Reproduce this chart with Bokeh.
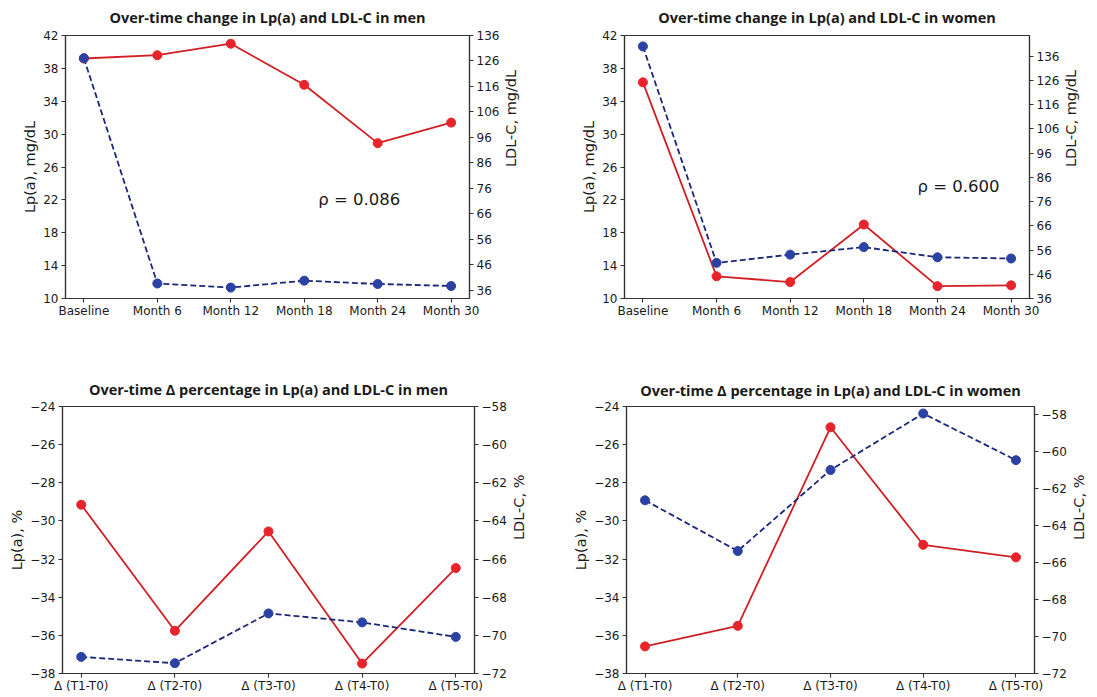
import math
from bokeh.plotting import figure
from bokeh.models import Range1d, LinearAxis, FixedTicker, Label, CustomJSTickFormatter
from bokeh.layouts import column, row
from bokeh.embed import file_html
from bokeh.resources import INLINE

# ---------------- data ----------------
time_labels = ["Baseline", "Month 6", "Month 12", "Month 18", "Month 24", "Month 30"]
delta_labels = ["Δ (T1-T0)", "Δ (T2-T0)", "Δ (T3-T0)", "Δ (T4-T0)", "Δ (T5-T0)"]

men_lpa = [39.2, 39.6, 41.0, 36.0, 28.9, 31.4]
men_ldl = [127.1, 38.6, 37.0, 39.7, 38.4, 37.6]
women_lpa = [36.3, 12.7, 12.0, 19.0, 11.5, 11.6]
women_ldl = [140.0, 50.7, 54.1, 57.2, 53.0, 52.5]

men_lpa_pct = [-29.15, -35.76, -30.55, -37.48, -32.47]
men_ldl_pct = [-71.13, -71.46, -68.85, -69.32, -70.08]
women_lpa_pct = [-36.58, -35.50, -25.09, -31.25, -31.91]
women_ldl_pct = [-62.64, -65.38, -61.00, -57.95, -60.47]

rho_men = "ρ = 0.086"
rho_women = "ρ = 0.600"

abs_left_ticks = [10, 14, 18, 22, 26, 30, 34, 38, 42]
abs_right_ticks = [36, 46, 56, 66, 76, 86, 96, 106, 116, 126, 136]
pct_left_ticks = [-38, -36, -34, -32, -30, -28, -26, -24]
pct_right_ticks = [-72, -70, -68, -66, -64, -62, -60, -58]

# ---------------- style ----------------
RED_LINE = "#d11f24"
RED_DOT = "#e8232a"
BLUE_LINE = "#1b2779"
BLUE_DOT = "#2b41a3"
AX = "#333333"
TXT = "#1a1a1a"
TICK_FONT = "DejaVu Sans"

minus_fmt = CustomJSTickFormatter(code="""
    return tick < 0 ? '\u2212' + Math.abs(tick) : String(tick);
""")


def style_axis(ax, label_standoff=6, tick_standoff=3):
    ax.axis_line_color = AX
    ax.axis_line_width = 1.2
    ax.major_tick_line_color = AX
    ax.major_tick_line_width = 1.1
    ax.major_tick_in = 0
    ax.major_tick_out = 4
    ax.minor_tick_line_color = None
    ax.major_label_text_font = TICK_FONT
    ax.major_label_text_font_size = "12px"
    ax.major_label_text_color = TXT
    ax.major_label_standoff = tick_standoff
    ax.axis_label_text_font = TICK_FONT
    ax.axis_label_text_font_size = "14.5px"
    ax.axis_label_text_font_style = "normal"
    ax.axis_label_text_color = TXT
    ax.axis_label_standoff = label_standoff


def panel(title, cats, lpa, ldl, lrange, lticks, rrange, rticks, llabel, rlabel,
          w, h, bl, br, bt, bb, title_standoff, rho=None, rho_pos=None):
    n = len(cats)
    xs = list(range(n))
    m = 0.05 * (n - 1)
    p = figure(width=w, height=h, output_backend="svg", toolbar_location=None,
               x_range=Range1d(-m, n - 1 + m), y_range=Range1d(*lrange),
               min_border_left=bl, min_border_right=br,
               min_border_top=bt, min_border_bottom=bb)
    p.extra_y_ranges = {"ldl": Range1d(*rrange)}
    p.background_fill_color = "white"
    p.border_fill_color = "white"
    p.outline_line_color = AX
    p.outline_line_width = 1.2
    p.xgrid.visible = False
    p.ygrid.visible = False

    p.title.text = title
    p.title.align = "center"
    p.title.vertical_align = "top"
    p.title.text_font = "Open Sans"
    p.title.text_font_style = "bold"
    p.title.text_font_size = "14.5px"
    p.title.text_color = TXT
    p.title.standoff = title_standoff

    p.xaxis.ticker = FixedTicker(ticks=xs)
    p.xaxis.major_label_overrides = {i: c for i, c in zip(xs, cats)}
    p.yaxis.ticker = FixedTicker(ticks=lticks)
    p.yaxis.formatter = minus_fmt
    p.yaxis.axis_label = llabel

    rax = LinearAxis(y_range_name="ldl", ticker=FixedTicker(ticks=rticks),
                     formatter=minus_fmt, axis_label=rlabel,
                     axis_label_orientation=math.pi / 2)
    p.add_layout(rax, "right")
    for ax in p.xaxis:
        style_axis(ax, tick_standoff=1)
    for ax in p.yaxis:
        style_axis(ax, label_standoff=2)
    style_axis(rax, label_standoff=9)

    p.line(xs, lpa, line_color=RED_LINE, line_width=1.8)
    p.scatter(xs, lpa, size=9, fill_color=RED_DOT, line_color=RED_DOT)
    p.line(xs, ldl, y_range_name="ldl", line_color=BLUE_LINE, line_width=1.8,
           line_dash="6 3")
    p.scatter(xs, ldl, y_range_name="ldl", size=9, fill_color=BLUE_DOT,
              line_color=BLUE_DOT)

    if rho is not None:
        p.add_layout(Label(x=rho_pos[0], y=rho_pos[1], text=rho,
                           text_font=TICK_FONT, text_font_size="16.5px",
                           text_color=TXT, text_baseline="alphabetic"))
    return p


p1 = panel("Over-time change in Lp(a) and LDL-C in men", time_labels, men_lpa, men_ldl,
           (10, 42), abs_left_ticks, (32.7, 136), abs_right_ticks,
           "Lp(a), mg/dL", "LDL-C, mg/dL", 550, 350, 65, 81, 35, 52, 14,
           rho=rho_men, rho_pos=(3.19, 22.0))
p2 = panel("Over-time change in Lp(a) and LDL-C in women", time_labels, women_lpa, women_ldl,
           (10, 42), abs_left_ticks, (36, 144.5), abs_right_ticks,
           "Lp(a), mg/dL", "LDL-C, mg/dL", 547, 350, 74, 68, 35, 52, 14,
           rho=rho_women, rho_pos=(3.73, 23.6))
p3 = panel("Over-time Δ percentage in Lp(a) and LDL-C in men", delta_labels, men_lpa_pct, men_ldl_pct,
           (-38, -24), pct_left_ticks, (-72, -58), pct_right_ticks,
           "Lp(a), %", "LDL-C, %", 550, 347, 62, 76, 56, 24, 11)
p4 = panel("Over-time Δ percentage in Lp(a) and LDL-C in women", delta_labels, women_lpa_pct, women_ldl_pct,
           (-38, -24), pct_left_ticks, (-72, -57.57), pct_right_ticks,
           "Lp(a), %", "LDL-C, %", 547, 347, 76, 57, 55, 24, 9)

layout = column(row(p1, p2), row(p3, p4))
open("out.html", "w").write(file_html(layout, INLINE))
